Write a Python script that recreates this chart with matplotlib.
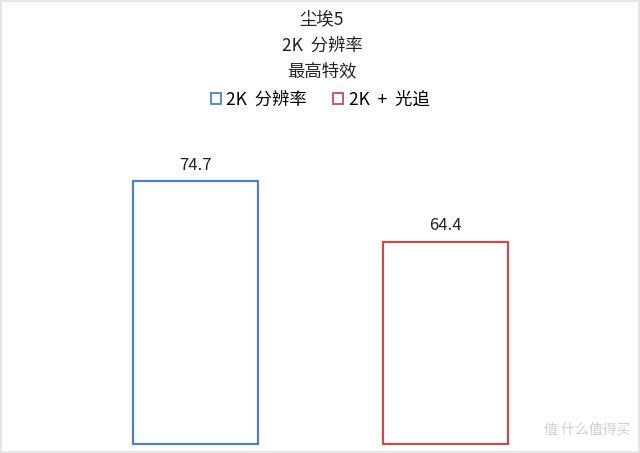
import matplotlib.pyplot as plt
from matplotlib.patches import Patch

plt.rcParams['font.family'] = ['Noto Sans CJK SC', 'DejaVu Sans']

# 数据
title_lines = ['尘埃5', '2K  分辨率', '最高特效']
series_names = ['2K  分辨率', '2K  +  光追']
values = [74.7, 64.4]
colors = ['#4F81BD', '#C0504D']
y_base = 30

fig = plt.figure(figsize=(6.4, 4.53), dpi=100)
fig.patch.set_edgecolor('#e6e6e6')
fig.patch.set_linewidth(1.5)

ax = fig.add_axes([0.0, 0.0188, 1.0, 0.65])
x = list(range(len(values)))
ax.bar(x, [v - y_base for v in values], width=0.5, bottom=y_base, facecolor='none',
       edgecolor=colors, linewidth=1.6, clip_on=False)
ax.set_xlim(-0.782, 1.778)
ax.set_ylim(y_base, 80)
ax.axis('off')

for xi, v in zip(x, values):
    ax.text(xi, v + 1.3, f'{v}', ha='center', va='bottom', fontsize=12, color='#222222')

# 标题
for i, line in enumerate(title_lines):
    fig.text(0.503, 1 - (20 + 25.5 * i) / 453, line, ha='center', va='center',
             fontsize=12.5, color='#222222')

# 图例
handles = [Patch(facecolor='white', edgecolor=c, linewidth=1.3) for c in colors]
fig.legend(handles, series_names, loc='center', bbox_to_anchor=(0.5, 1 - 100 / 453),
           ncol=2, frameon=False, fontsize=12.5, handlelength=0.6, handleheight=0.6,
           handletextpad=0.3, columnspacing=1.5)

# 水印
fig.text(0.985, 0.035, '值 什么值得买', ha='right', va='bottom', fontsize=10,
         color='#d0d0d0')

fig.savefig('out.png', dpi=100, edgecolor=fig.get_edgecolor())
